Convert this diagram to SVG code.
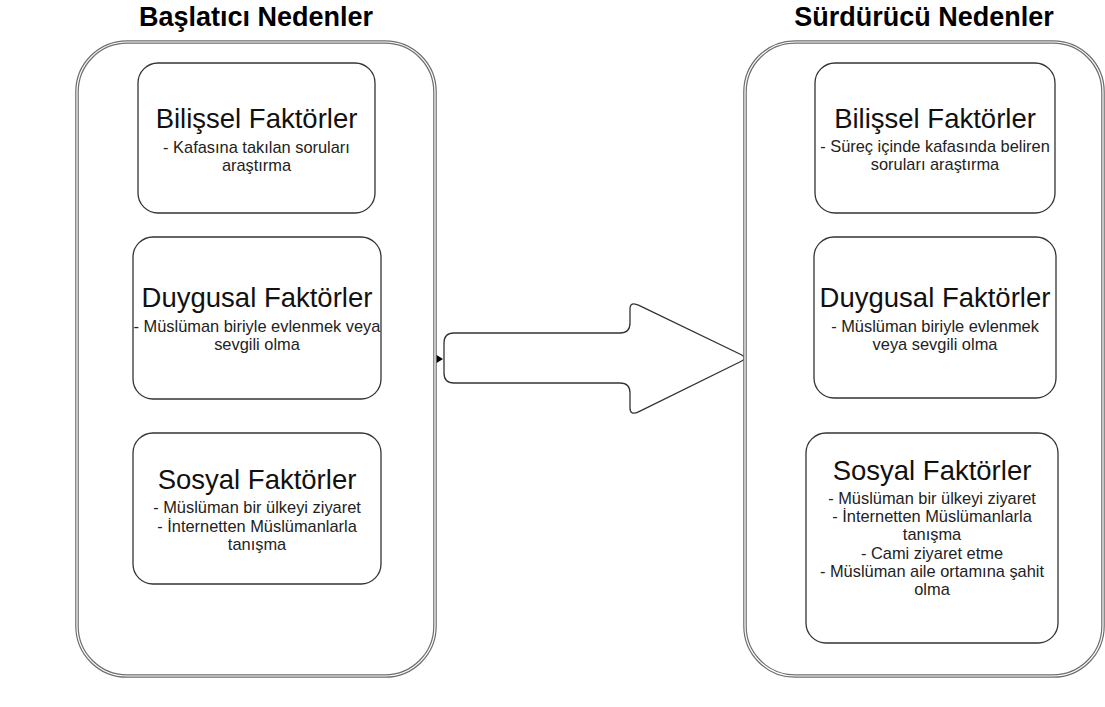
<svg xmlns="http://www.w3.org/2000/svg" width="1105" height="707" viewBox="0 0 1105 707">
<style>
.bg{fill:#ffffff}
.cont-outer{fill:none;stroke:#6e6e6e;stroke-width:3.6}
.cont-inner{fill:none;stroke:#ffffff;stroke-width:1.2}
.box{fill:#ffffff;stroke:#333333;stroke-width:1.3}
.arrow{fill:#ffffff;stroke:#333333;stroke-width:1.3;stroke-linejoin:round}
.head{font-family:"Liberation Sans",Arial,sans-serif;font-weight:bold;font-size:27px;fill:#000;text-anchor:middle}
.ttl{font-family:"Liberation Sans",Arial,sans-serif;font-size:27.5px;fill:#111;text-anchor:middle}
.txt{font-family:"Liberation Sans",Arial,sans-serif;font-size:16.4px;fill:#222;text-anchor:middle}
.tip{fill:#000000}
</style>
<rect class="bg" x="0" y="0" width="1105" height="707"/>

<g id="connectors">
  <path id="big-arrow" class="arrow" d="M 454,333 L 620,333 Q 630,333 630,323 L 630,309 Q 630,301 639,305.4 L 740.8,354.5 Q 748,358 740.8,361.5 L 639,411.6 Q 630,416 630,408 L 630,393 Q 630,383 620,383 L 454,383 Q 444,383 444,373 L 444,343 Q 444,333 454,333 Z"/>
  <polygon class="tip" points="435,354 443,359 435,364"/>
</g>

<g id="baslatici">
  <rect class="cont-outer" x="77" y="42" width="358" height="634" rx="50" ry="50"/>
  <rect class="cont-inner" x="77" y="42" width="358" height="634" rx="50" ry="50"/>
  <text class="head" x="256" y="26">Başlatıcı Nedenler</text>
</g>

<g id="surdurucu">
  <rect class="cont-outer" x="745" y="42" width="358" height="634" rx="50" ry="50"/>
  <rect class="cont-inner" x="745" y="42" width="358" height="634" rx="50" ry="50"/>
  <text class="head" x="924" y="26">Sürdürücü Nedenler</text>
</g>

<g id="b-bilissel">
  <rect class="box" x="138" y="63" width="237" height="150" rx="20" ry="20"/>
  <text class="ttl" x="256.5" y="128">Bilişsel Faktörler</text>
  <text class="txt" x="256.5" y="152.5">- Kafasına takılan soruları</text>
  <text class="txt" x="256.5" y="170.5">araştırma</text>
</g>

<g id="b-duygusal">
  <rect class="box" x="133" y="237" width="248" height="162" rx="20" ry="20"/>
  <text class="ttl" x="257" y="307">Duygusal Faktörler</text>
  <text class="txt" x="257" y="331.5">- Müslüman biriyle evlenmek veya</text>
  <text class="txt" x="257" y="349.5">sevgili olma</text>
</g>

<g id="b-sosyal">
  <rect class="box" x="133" y="433" width="248" height="151" rx="20" ry="20"/>
  <text class="ttl" x="257" y="489">Sosyal Faktörler</text>
  <text class="txt" x="257" y="513">- Müslüman bir ülkeyi ziyaret</text>
  <text class="txt" x="257" y="531.5">- İnternetten Müslümanlarla</text>
  <text class="txt" x="257" y="549.5">tanışma</text>
</g>

<g id="s-bilissel">
  <rect class="box" x="815" y="63" width="240" height="150" rx="20" ry="20"/>
  <text class="ttl" x="935" y="128">Bilişsel Faktörler</text>
  <text class="txt" x="935" y="152">- Süreç içinde kafasında beliren</text>
  <text class="txt" x="935" y="170">soruları araştırma</text>
</g>

<g id="s-duygusal">
  <rect class="box" x="814" y="237" width="242" height="161" rx="20" ry="20"/>
  <text class="ttl" x="935" y="307">Duygusal Faktörler</text>
  <text class="txt" x="935" y="331.5">- Müslüman biriyle evlenmek</text>
  <text class="txt" x="935" y="349.5">veya sevgili olma</text>
</g>

<g id="s-sosyal">
  <rect class="box" x="806" y="433" width="252" height="210" rx="20" ry="20"/>
  <text class="ttl" x="932" y="480">Sosyal Faktörler</text>
  <text class="txt" x="932" y="503.5">- Müslüman bir ülkeyi ziyaret</text>
  <text class="txt" x="932" y="522">- İnternetten Müslümanlarla</text>
  <text class="txt" x="932" y="540">tanışma</text>
  <text class="txt" x="932" y="558.5">- Cami ziyaret etme</text>
  <text class="txt" x="932" y="577">- Müslüman aile ortamına şahit</text>
  <text class="txt" x="932" y="595">olma</text>
</g>
</svg>
